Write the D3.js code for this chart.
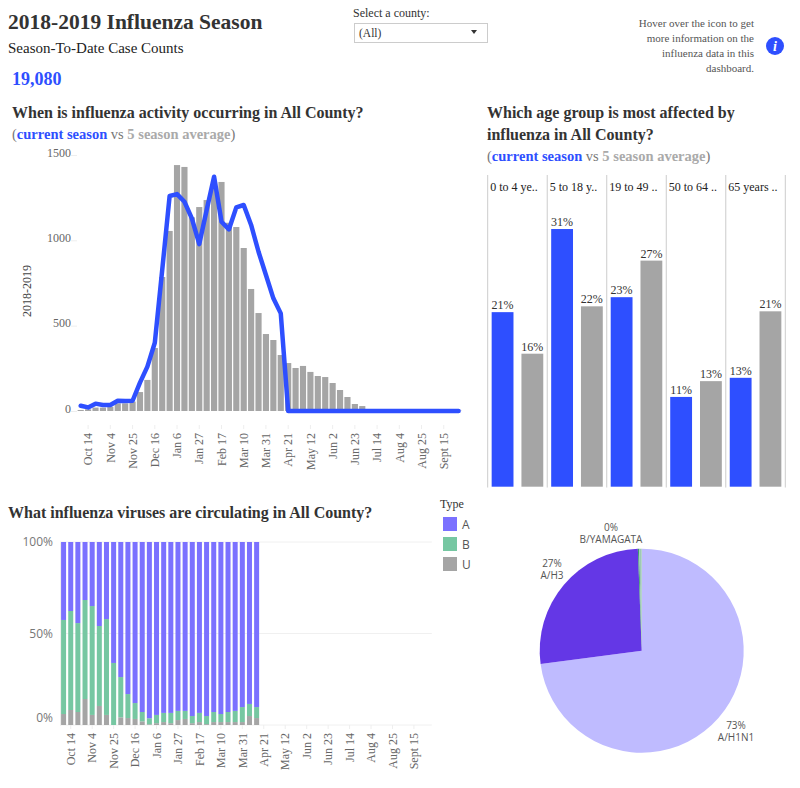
<!DOCTYPE html>
<html>
<head>
<meta charset="utf-8">
<script src="https://cdn.jsdelivr.net/npm/d3@7"></script>
<style>
html, body { margin: 0; padding: 0; background: #fff; }
svg { display: block; }
text { font-family: "Liberation Serif", serif; }
.sans { font-family: "Open Sans", sans-serif; }
</style>
</head>
<body>
<script>
var weekLabels = ['Oct 7','Oct 14','Oct 21','Oct 28','Nov 4','Nov 11','Nov 18','Nov 25','Dec 2','Dec 9','Dec 16','Dec 23','Dec 30','Jan 6','Jan 13','Jan 20','Jan 27','Feb 3','Feb 10','Feb 17','Feb 24','Mar 3','Mar 10','Mar 17','Mar 24','Mar 31','Apr 7','Apr 14','Apr 21','Apr 28','May 5','May 12','May 19','May 26','Jun 2','Jun 9','Jun 16','Jun 23','Jun 30','Jul 7','Jul 14','Jul 21','Jul 28','Aug 4','Aug 11','Aug 18','Aug 25','Sept 1','Sept 8','Sept 15','Sept 22','Sept 29'];
var shownTicks = ['Oct 14','Nov 4','Nov 25','Dec 16','Jan 6','Jan 27','Feb 17','Mar 10','Mar 31','Apr 21','May 12','Jun 2','Jun 23','Jul 14','Aug 4','Aug 25','Sept 15'];

var averageCases = [6,10,20,20,25,45,45,55,111,182,369,785,1055,1441,1430,1135,1195,1236,1340,1342,1103,1078,955,715,574,451,416,328,281,252,264,229,205,199,164,123,82,41,29,4,3,2,2,2,2,2,2,2,2,2,2,2];
var currentCases = [31,21,43,35,35,60,58,60,166,260,400,826,1260,1271,1226,1129,978,1178,1373,1109,1064,1193,1207,1090,933,797,660,572,0,0,0,0,0,0,0,0,0,0,0,0,0,0,0,0,0,0,0,0,0,0,0,0];

var typeU = [6,8.2,7.1,14.2,5.5,10.4,5.5,0,4.2,3.8,3.3,2,0.4,1,1.6,1,2.7,3.3,1,1.6,0.5,1.6,1.6,1.6,1.6,1.6,4.9,3.8];
var typeB = [51.4,54.1,48.6,54.1,59.5,43.7,52.4,33.9,22,13.1,8.7,5.1,3.3,4.5,5,5.6,5,4.4,3.9,5,4.4,5.5,4.4,5.5,6.1,8.2,6.6,6];
var typeA = [42.6,37.7,44.3,31.7,35,45.9,42.1,66.1,73.8,83.1,88,92.9,96.3,94.5,93.4,93.4,92.3,92.3,95.1,93.4,95.1,92.9,94,92.9,92.3,90.2,88.5,90.2];
var typeNames = ['U','B','A'];
var legendNames = ['A','B','U'];

var ageGroups = ['0 to 4 ye..','5 to 18 y..','19 to 49 ..','50 to 64 ..','65 years ..'];
var ageCurrent = [21,31,22.8,10.8,13.1];
var ageAverage = [16,21.7,27.2,12.7,21.1];
var ageLabelsCurrent = ['21%','31%','23%','11%','13%'];
var ageLabelsAverage = ['16%','22%','27%','13%','21%'];

var pieNames = ['A/H1N1','A/H3','B/YAMAGATA','B/VICTORIA'];
var pieValues = [72.9,26.5,0.2,0.4];

var blue = '#2e4fff', grey = '#a5a5a5';
var typeColor = d3.scaleOrdinal(['A','B','U'], ['#7b71ff','#76c7a2','#a5a5a5']);
var pieColor = d3.scaleOrdinal(pieNames, ['#bfbbff','#6437e6','#3c9a6e','#9fc9b4']);

var svg = d3.select('body').append('svg').attr('width', 800).attr('height', 788);

function label(x, y, size, color, weight, str, anchor) {
    return svg.append('text')
        .attr('x', x).attr('y', y)
        .attr('font-size', size)
        .attr('fill', color)
        .attr('font-weight', weight || 'normal')
        .attr('text-anchor', anchor || 'start')
        .text(str);
}

// (current season vs 5 season average) line
function legendLine(x, y) {
    var t = svg.append('text').attr('x', x).attr('y', y).attr('font-size', 14.5).attr('fill', '#777');
    t.append('tspan').text('(');
    t.append('tspan').attr('fill', blue).attr('font-weight', 'bold').text('current season');
    t.append('tspan').text(' vs ');
    t.append('tspan').attr('fill', '#aaa').attr('font-weight', 'bold').text('5 season average');
    t.append('tspan').text(')');
}

// header
label(8, 29, 21.5, '#333', 'bold', '2018-2019 Influenza Season');
label(8, 53, 15, '#222', 'normal', 'Season-To-Date Case Counts');
label(12, 85, 18, blue, 'bold', '19,080');
label(353, 17, 12, '#333', 'normal', 'Select a county:');
svg.append('rect').attr('x', 354.5).attr('y', 23.5).attr('width', 133).attr('height', 19)
    .attr('fill', '#fff').attr('stroke', '#ccc');
label(359, 37, 11.5, '#333', 'normal', '(All)');
svg.append('path').attr('d', d3.line()([[471, 30], [477, 30], [474, 34]])).attr('fill', '#333');

var note = ['Hover over the icon to get', 'more information on the', 'influenza data in this', 'dashboard.'];
note.forEach(function (s, i) {
    label(754, 27 + i * 15, 11, '#555', 'normal', s, 'end');
});
svg.append('circle').attr('cx', 775).attr('cy', 46).attr('r', 9).attr('fill', blue);
label(775, 51, 14, '#fff', 'bold', 'i', 'middle').attr('font-style', 'italic');

label(12, 118, 16, '#333', 'bold', 'When is influenza activity occurring in All County?');
legendLine(12, 139);
label(487, 118, 16, '#333', 'bold', 'Which age group is most affected by');
label(487, 140, 16, '#333', 'bold', 'influenza in All County?');
legendLine(487, 161);
label(8, 518, 16, '#333', 'bold', 'What influenza viruses are circulating in All County?');

// weekly bars and line
var x1 = d3.scaleBand().domain(weekLabels).range([77, 462.3]).paddingInner(0.17).paddingOuter(0.085);
var y1 = d3.scaleLinear().domain([0, 1500]).range([411, 155]);

svg.append('g').selectAll('rect').data(averageCases).join('rect')
    .attr('x', function (d, i) { return x1(weekLabels[i]); })
    .attr('y', function (d) { return y1(d); })
    .attr('width', x1.bandwidth())
    .attr('height', function (d) { return y1(0) - y1(d); })
    .attr('fill', grey);

var yAxis1 = svg.append('g').attr('transform', 'translate(77,0)')
    .call(d3.axisLeft(y1).tickValues([0, 500, 1000, 1500]).tickFormat(d3.format('d')).tickSize(6));
yAxis1.select('.domain').remove();
yAxis1.selectAll('line').attr('stroke', '#eee');
yAxis1.selectAll('text').attr('font-size', 12).attr('fill', '#666').attr('font-family', '"Liberation Serif", serif').attr('x', -6).attr('dy', '0.1em');
yAxis1.selectAll('.tick').filter(function (d) { return d == 0; }).select('text').attr('x', -6);

var line1 = d3.line()
    .x(function (d, i) { return x1(weekLabels[i]) + x1.bandwidth() / 2; })
    .y(function (d) { return y1(d); });
svg.append('path').datum(currentCases)
    .attr('d', line1)
    .attr('fill', 'none')
    .attr('stroke', blue)
    .attr('stroke-width', 4.5)
    .attr('stroke-linejoin', 'round')
    .attr('stroke-linecap', 'round');

function weekAxis(scale, y, font, size) {
    var g = svg.append('g').attr('transform', 'translate(0,' + y + ')')
        .call(d3.axisBottom(scale).tickValues(shownTicks).tickSize(4).tickPadding(4));
    g.select('.domain').remove();
    g.selectAll('line').attr('stroke', '#eee');
    g.selectAll('text')
        .attr('font-family', font)
        .attr('font-size', size)
        .attr('fill', '#666')
        .attr('text-anchor', 'end')
        .attr('transform', 'rotate(-90)')
        .attr('x', -8)
        .attr('y', 0)
        .attr('dy', '0.35em');
    return g;
}
weekAxis(x1, 425, '"Liberation Serif", serif', 12);

svg.append('text')
    .attr('transform', 'translate(31,291) rotate(-90)')
    .attr('text-anchor', 'middle')
    .attr('font-size', 12)
    .attr('fill', '#444')
    .text('2018-2019');

// age groups
var xAge = d3.scaleBand().domain(ageGroups).range([487.7, 785.3]);
var xInner = d3.scaleBand().domain(['current', 'average']).range([0, xAge.bandwidth()]).paddingInner(0.267).paddingOuter(0.133);
var yAge = d3.scaleLinear().domain([0, 37.5]).range([486.7, 175]);

var ageG = svg.append('g').selectAll('g').data(ageGroups).join('g')
    .attr('transform', function (d) { return 'translate(' + xAge(d) + ',0)'; });
ageG.append('line').attr('x1', 0).attr('x2', 0).attr('y1', 175).attr('y2', 487.5)
    .attr('stroke', '#ccc');
ageG.append('text').attr('x', 2.5).attr('y', 191).attr('font-size', 12).attr('fill', '#222')
    .text(function (d) { return d; });
[['current', ageCurrent, ageLabelsCurrent, blue], ['average', ageAverage, ageLabelsAverage, grey]].forEach(function (s) {
    ageG.append('rect')
        .attr('x', xInner(s[0]))
        .attr('y', function (d, i) { return yAge(s[1][i]); })
        .attr('width', xInner.bandwidth())
        .attr('height', function (d, i) { return yAge(0) - yAge(s[1][i]); })
        .attr('fill', s[3]);
    ageG.append('text')
        .attr('x', xInner(s[0]) + xInner.bandwidth() / 2)
        .attr('y', function (d, i) { return yAge(s[1][i]) - 3; })
        .attr('text-anchor', 'middle')
        .attr('font-size', 12)
        .attr('fill', '#333')
        .text(function (d, i) { return s[2][i]; });
});
svg.append('line').attr('x1', 785.3).attr('x2', 785.3).attr('y1', 175).attr('y2', 487.5).attr('stroke', '#ccc');

// type stack
var x3 = d3.scaleBand().domain(weekLabels).range([60, 431.8]).paddingInner(0.3).paddingOuter(0.15);
var y3 = d3.scaleLinear().domain([0, 100]).range([725, 542]);
var stackRows = typeA.map(function (d, i) {
    return { week: weekLabels[i], A: typeA[i], B: typeB[i], U: typeU[i] };
});
var stacked = d3.stack().keys(typeNames)(stackRows);

var yAxis3 = svg.append('g').attr('transform', 'translate(60,0)')
    .call(d3.axisLeft(y3).tickValues([0, 50, 100]).tickFormat(function (d) { return d + '%'; }).tickSize(0).tickPadding(7));
yAxis3.select('.domain').attr('stroke', '#eee');
yAxis3.selectAll('text').attr('class', 'sans').attr('font-size', 12).attr('fill', '#777');
yAxis3.selectAll('.tick').filter(function (d) { return d == 0; }).select('text').attr('dy', '-0.3em');

svg.append('g').selectAll('line').data([0, 50, 100]).join('line')
    .attr('x1', 60).attr('x2', 431.8)
    .attr('y1', function (d) { return y3(d); })
    .attr('y2', function (d) { return y3(d); })
    .attr('stroke', '#f0f0f0');

svg.append('g').selectAll('g').data(stacked).join('g')
    .attr('fill', function (s) { return typeColor(s.key); })
    .selectAll('rect').data(function (s) { return s; }).join('rect')
    .attr('x', function (d) { return x3(d.data.week); })
    .attr('y', function (d) { return y3(d[1]); })
    .attr('width', x3.bandwidth())
    .attr('height', function (d) { return y3(d[0]) - y3(d[1]); });

weekAxis(x3, 725, '"Open Sans", sans-serif', 12);

// legend
label(440, 508, 12, '#333', 'normal', 'Type');
legendNames.forEach(function (n, i) {
    svg.append('rect').attr('x', 443).attr('y', 517 + i * 20).attr('width', 14).attr('height', 14).attr('fill', typeColor(n));
    label(462, 528.5 + i * 20, 12, '#555', 'normal', n).attr('class', 'sans');
});

// pie
var pie = d3.pie().sort(null);
var arc = d3.arc().innerRadius(0).outerRadius(102);
var pieG = svg.append('g').attr('transform', 'translate(641.7,650.7)');
pieG.selectAll('path').data(pie(pieValues)).join('path')
    .attr('d', arc)
    .attr('fill', function (d, i) { return pieColor(pieNames[i]); });

var pieLabels = [['73%', 'A/H1N1', 736, 729], ['27%', 'A/H3', 552, 567], ['0%', 'B/YAMAGATA', 611, 531]];
pieLabels.forEach(function (p) {
    label(p[2], p[3], 10, '#555', 'normal', p[0], 'middle').attr('class', 'sans');
    label(p[2], p[3] + 12, 10, '#555', 'normal', p[1], 'middle').attr('class', 'sans');
});
</script>
</body>
</html>
